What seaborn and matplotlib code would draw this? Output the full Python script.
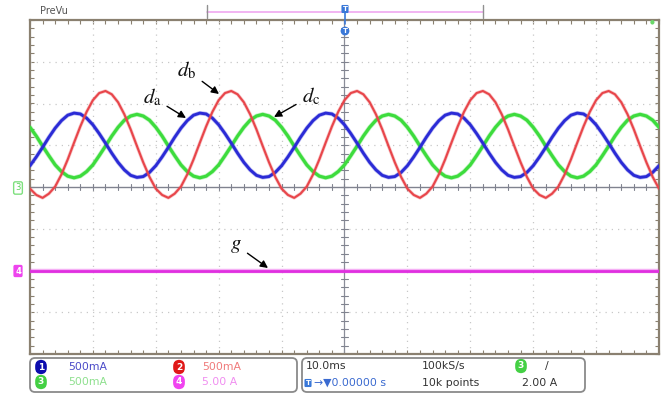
import numpy as np
import pandas as pd
import matplotlib
matplotlib.use("Agg")
import matplotlib.pyplot as plt
import seaborn as sns
from matplotlib.patches import FancyBboxPatch
from matplotlib.transforms import IdentityTransform
from matplotlib.lines import Line2D

time_ms = np.arange(0, 101, 1)

# d_a : channel 1 (blue)
da_values = [
    0.51, 0.72, 0.95, 1.19, 1.41, 1.59, 1.72, 1.77, 1.75, 1.65, 1.49, 1.28, 1.05, 0.81, 0.59, 0.41, 0.28, 0.23, 0.25, 0.35,
    0.51, 0.72, 0.95, 1.19, 1.41, 1.59, 1.72, 1.77, 1.75, 1.65, 1.49, 1.28, 1.05, 0.81, 0.59, 0.41, 0.28, 0.23, 0.25, 0.35,
    0.51, 0.72, 0.95, 1.19, 1.41, 1.59, 1.72, 1.77, 1.75, 1.65, 1.49, 1.28, 1.05, 0.81, 0.59, 0.41, 0.28, 0.23, 0.25, 0.35,
    0.51, 0.72, 0.95, 1.19, 1.41, 1.59, 1.72, 1.77, 1.75, 1.65, 1.49, 1.28, 1.05, 0.81, 0.59, 0.41, 0.28, 0.23, 0.25, 0.35,
    0.51, 0.72, 0.95, 1.19, 1.41, 1.59, 1.72, 1.77, 1.75, 1.65, 1.49, 1.28, 1.05, 0.81, 0.59, 0.41, 0.28, 0.23, 0.25, 0.35,
    0.51,
]
# d_b : channel 2 (red)
db_values = [
    -0.04, -0.19, -0.26, -0.16, 0.01, 0.30, 0.66, 1.06, 1.45, 1.80, 2.08, 2.25, 2.30, 2.22, 2.03, 1.74, 1.38, 0.98, 0.59, 0.24,
    -0.04, -0.19, -0.26, -0.16, 0.01, 0.30, 0.66, 1.06, 1.45, 1.80, 2.08, 2.25, 2.30, 2.22, 2.03, 1.74, 1.38, 0.98, 0.59, 0.24,
    -0.04, -0.19, -0.26, -0.16, 0.01, 0.30, 0.66, 1.06, 1.45, 1.80, 2.08, 2.25, 2.30, 2.22, 2.03, 1.74, 1.38, 0.98, 0.59, 0.24,
    -0.04, -0.19, -0.26, -0.16, 0.01, 0.30, 0.66, 1.06, 1.45, 1.80, 2.08, 2.25, 2.30, 2.22, 2.03, 1.74, 1.38, 0.98, 0.59, 0.24,
    -0.04, -0.19, -0.26, -0.16, 0.01, 0.30, 0.66, 1.06, 1.45, 1.80, 2.08, 2.25, 2.30, 2.22, 2.03, 1.74, 1.38, 0.98, 0.59, 0.24,
    -0.04,
]
# d_c : channel 3 (green)
dc_values = [
    1.43, 1.22, 0.98, 0.75, 0.53, 0.37, 0.26, 0.22, 0.26, 0.37, 0.53, 0.75, 0.98, 1.22, 1.43, 1.60, 1.70, 1.74, 1.70, 1.60,
    1.43, 1.22, 0.98, 0.75, 0.53, 0.37, 0.26, 0.22, 0.26, 0.37, 0.53, 0.75, 0.98, 1.22, 1.43, 1.60, 1.70, 1.74, 1.70, 1.60,
    1.43, 1.22, 0.98, 0.75, 0.53, 0.37, 0.26, 0.22, 0.26, 0.37, 0.53, 0.75, 0.98, 1.22, 1.43, 1.60, 1.70, 1.74, 1.70, 1.60,
    1.43, 1.22, 0.98, 0.75, 0.53, 0.37, 0.26, 0.22, 0.26, 0.37, 0.53, 0.75, 0.98, 1.22, 1.43, 1.60, 1.70, 1.74, 1.70, 1.60,
    1.43, 1.22, 0.98, 0.75, 0.53, 0.37, 0.26, 0.22, 0.26, 0.37, 0.53, 0.75, 0.98, 1.22, 1.43, 1.60, 1.70, 1.74, 1.70, 1.60,
    1.43,
]
# g : channel 4 (magenta), flat
g_time = [0, 100]
g_values = [-2.0, -2.0]

channel_labels = ["500mA", "500mA", "500mA", "5.00 A"]
timebase_label = "10.0ms"
sample_rate_label = "100kS/s"
delay_label = "\u2192\u25bc0.00000 s"
points_label = "10k points"
trigger_level_label = "2.00 A"

# ---------------- figure ----------------
sns.set_theme(style="white")
plt.rcParams["font.family"] = ["DejaVu Sans"]
plt.rcParams["mathtext.fontset"] = "stix"

W, H = 667, 396
fig = plt.figure(figsize=(W / 100, H / 100), dpi=100)
fig.patch.set_facecolor("white")
ax = fig.add_axes([30 / W, (H - 354) / H, 629 / W, 334 / H])
ax.set_facecolor("white")
ax.set_xlim(0, 100)
ax.set_ylim(-4, 4)

# graticule
for x in range(10, 100, 10):
    if x != 50:
        ax.axvline(x, color="#c8c8c8", lw=0.9, ls=(0, (1, 4)), zorder=1)
for y in range(-3, 4):
    if y != 0:
        ax.axhline(y, color="#c8c8c8", lw=0.9, ls=(0, (1, 4)), zorder=1)
ax.axhline(0, color="#80838f", lw=1.0, zorder=1.5)
ax.axvline(50, color="#8a8d98", lw=0.9, zorder=1.5)
for x in np.arange(0, 100.01, 2):
    ax.add_line(Line2D([x, x], [-0.07, 0.07], color="#80838f", lw=0.8, zorder=1.5))
for y in np.arange(-4, 4.01, 0.2):
    ax.add_line(Line2D([49.5, 50.5], [y, y], color="#80838f", lw=0.8, zorder=1.5))

ax.set_xticks(np.arange(0, 101, 2))
ax.set_yticks(np.arange(-4, 4.01, 0.2))
ax.tick_params(direction="in", length=3, width=0.8, color="#8a8070",
               top=True, right=True, bottom=True, left=True,
               labelbottom=False, labelleft=False)
for s in ax.spines.values():
    s.set_color("#8a8070")
    s.set_linewidth(1.6)

# traces
traces = [
    (dc_values, "#3ddc3d", 2.3),
    (da_values, "#2b2bd6", 2.1),
    (db_values, "#e8454a", 1.5),
]
for vals, col, lw in traces:
    df = pd.DataFrame({"t": time_ms, "v": vals})
    sns.lineplot(data=df, x="t", y="v", color=col, lw=lw + 1.0, alpha=0.3, ax=ax, zorder=3)
    sns.lineplot(data=df, x="t", y="v", color=col, lw=lw, ax=ax, zorder=3)
gdf = pd.DataFrame({"t": g_time, "v": g_values})
sns.lineplot(data=gdf, x="t", y="v", color="#e838e8", lw=3.2, alpha=0.4, ax=ax, zorder=3)
sns.lineplot(data=gdf, x="t", y="v", color="#e030e0", lw=2.0, ax=ax, zorder=3)
ax.set_xlabel("")
ax.set_ylabel("")


def P(xp, yp):
    return ((xp - 30) / 629 * 100, (187 - yp) / 41.75)


arrow = dict(arrowstyle="-|>", color="black", lw=1.0, mutation_scale=11,
             shrinkA=2, shrinkB=0)
for label, txt, tip in [
    ("$d_{\\mathrm{b}}$", (187, 70), (219, 94)),
    ("$d_{\\mathrm{a}}$", (152, 97), (186, 118)),
    ("$d_{\\mathrm{c}}$", (311, 96), (274, 117)),
    ("$g$", (236, 245), (268, 268)),
]:
    ax.annotate(label, xy=P(*tip), xytext=P(*txt), fontsize=15, color="#111111",
                ha="center", va="center", arrowprops=arrow, zorder=5)


# ---------------- screen furniture (figure pixels) ----------------
def F(xp, yp):
    return (xp / W, 1 - yp / H)


def fline(xs, ys, **kw):
    fig.add_artist(Line2D([x / W for x in xs], [1 - y / H for y in ys],
                          transform=fig.transFigure, **kw))


fig.text(*F(40, 11), "PreVu", fontsize=7, color="#555555", ha="left", va="center")
fline([207, 483], [12, 12], color="#f0a8f0", lw=1.2)
fline([207, 207], [5, 18], color="#909090", lw=1.0)
fline([483, 483], [5, 18], color="#909090", lw=1.0)
fline([345, 345], [10, 24], color="#3a78d8", lw=1.2)
fig.text(*F(345, 9), "T", fontsize=5, color="white", ha="center", va="center",
         fontweight="bold",
         bbox=dict(boxstyle="round,pad=0.15", fc="#3a78d8", ec="none"))
fig.text(*F(345, 31), "T", fontsize=5, color="white", ha="center", va="center",
         fontweight="bold",
         bbox=dict(boxstyle="circle,pad=0.2", fc="#3a78d8", ec="none"))
fig.text(*F(652, 22), "\u25cf", fontsize=4, color="#6ad86a", ha="center", va="center")

fig.text(*F(18, 188), "3", fontsize=6, color="#5ad05a", ha="center", va="center",
         bbox=dict(boxstyle="round,pad=0.2", fc="white", ec="#7ee07e", lw=1.0))
fig.text(*F(18, 271), "4", fontsize=6, color="white", ha="center", va="center",
         fontweight="bold",
         bbox=dict(boxstyle="round,pad=0.2", fc="#ee44ee", ec="none"))


def panel(x0, x1, y0, y1):
    p = FancyBboxPatch((x0, H - y1), x1 - x0, y1 - y0,
                       boxstyle="round,pad=0,rounding_size=5",
                       fc="white", ec="#8a8a8a", lw=1.3, transform=IdentityTransform())
    fig.add_artist(p)


panel(30, 297, 358, 392)
panel(302, 585, 358, 392)


def pill(xc, yc, num, col):
    fig.text(*F(xc, yc), num, fontsize=6.5, color="white", ha="center", va="center",
             fontweight="bold",
             bbox=dict(boxstyle="round,pad=0.3,rounding_size=0.7", fc=col, ec="none"))


pill(41, 367, "1", "#0c0cae")
pill(179, 367, "2", "#e01818")
pill(41, 382, "3", "#44d044")
pill(179, 382, "4", "#f044f0")
pill(521, 366, "3", "#44d044")

fs = 7.8
fig.text(*F(68, 367), channel_labels[0], fontsize=fs, color="#4a4ac8", va="center")
fig.text(*F(202, 367), channel_labels[1], fontsize=fs, color="#f07a7a", va="center")
fig.text(*F(68, 382), channel_labels[2], fontsize=fs, color="#8ee08e", va="center")
fig.text(*F(202, 382), channel_labels[3], fontsize=fs, color="#f08ef0", va="center")
fig.text(*F(306, 366), timebase_label, fontsize=fs, color="#333333", va="center")
fig.text(*F(422, 366), sample_rate_label, fontsize=fs, color="#333333", va="center")
fig.text(*F(545, 366), "/", fontsize=fs, color="#333333", va="center")
fig.text(*F(308, 383), "T", fontsize=5, color="white", ha="center", va="center",
         fontweight="bold", bbox=dict(boxstyle="round,pad=0.15", fc="#3a78d8", ec="none"))
fig.text(*F(314, 383), delay_label, fontsize=fs, color="#3a6ad0", va="center")
fig.text(*F(422, 383), points_label, fontsize=fs, color="#333333", va="center")
fig.text(*F(522, 383), trigger_level_label, fontsize=fs, color="#333333", va="center")

fig.savefig("out.png", dpi=100, facecolor="white")
